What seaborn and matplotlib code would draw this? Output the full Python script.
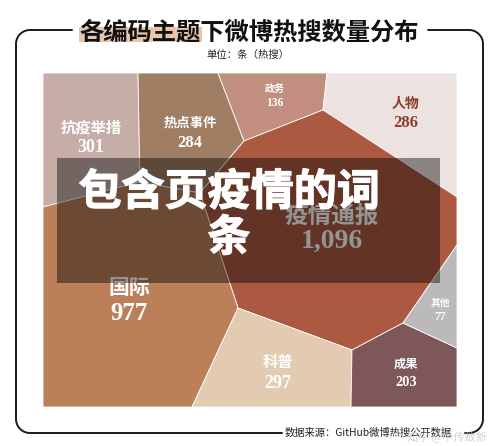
import matplotlib.pyplot as plt
import matplotlib.patheffects as pe
import seaborn as sns
import numpy as np
from matplotlib.patches import Polygon, Rectangle

# data
categories = ['抗疫举措', '热点事件', '政务', '人物', '疫情通报', '国际', '科普', '成果', '其他']
counts = [301, 284, 136, 286, 1096, 977, 297, 203, 77]
cell_colors = ['#c4aca4', '#9c7a5f', '#c08a7b', '#ece2e0', '#a8533b',
               '#b97b53', '#e2cab0', '#7a5153', '#b9b7b7']

title = '各编码主题下微博热搜数量分布'
subtitle = '单位：条（热搜）'
source = '数据来源：GitHub微博热搜公开数据'
banner = '包含页疫情的词\n条'

# layout of the voronoi cells (figure pixels)
cell_shapes = {
    '抗疫举措': [(43, 73), (138, 73), (140, 182), (43, 207)],
    '热点事件': [(138, 73), (218, 73), (244, 141), (200, 193), (140, 182)],
    '政务': [(218, 73), (327, 73), (323, 110), (244, 141)],
    '人物': [(327, 73), (457, 73), (457, 197), (323, 110)],
    '疫情通报': [(244, 141), (323, 110), (457, 197), (457, 245), (403, 323),
             (352, 350), (238, 308), (200, 193)],
    '国际': [(43, 207), (140, 182), (200, 193), (238, 308), (192, 407), (43, 407)],
    '科普': [(238, 308), (352, 350), (351, 407), (192, 407)],
    '成果': [(352, 350), (403, 323), (457, 348), (457, 407), (351, 407)],
    '其他': [(403, 323), (457, 245), (457, 348)],
}
# label x, name y, number y, name size, number size, colour
label_style = {
    '抗疫举措': (91, 127, 148, 11, 13, 'white'),
    '热点事件': (190, 123, 143, 9.6, 12, 'white'),
    '政务': (275, 90, 103, 7.2, 8.3, 'white'),
    '人物': (406, 104, 123, 10, 12, '#8e3b2c'),
    '疫情通报': (332, 216, 241, 17, 20, 'white'),
    '国际': (129, 287, 314, 15, 18, 'white'),
    '科普': (278, 362, 384, 11, 13, 'white'),
    '成果': (406, 364, 383, 8.8, 10.4, 'white'),
    '其他': (440, 303, 317, 7, 8.4, 'white'),
}

sns.set_theme(style='white')
plt.rcParams['font.family'] = ['Noto Sans CJK SC', 'DejaVu Sans']
palette = sns.color_palette(cell_colors)

fig = plt.figure(figsize=(5, 4.46), dpi=100)
ax = fig.add_axes([0, 0, 1, 1])
ax.set_xlim(0, 500)
ax.set_ylim(446, 0)
ax.axis('off')

for cat, n, col in zip(categories, counts, palette):
    ax.add_patch(Polygon(cell_shapes[cat], closed=True, facecolor=col,
                         edgecolor='white', linewidth=0.6, alpha=0.97, zorder=1))
    x, yn, yv, sn, sv, tc = label_style[cat]
    ax.text(x, yn, cat, ha='center', va='center', fontsize=sn, color=tc,
            fontweight='bold', zorder=2)
    ax.text(x, yv, f'{n:,}', ha='center', va='center', fontsize=sv, color=tc,
            fontweight='bold', family=['Liberation Serif', 'DejaVu Serif'], zorder=2)

# dark banner over the chart
ax.add_patch(Rectangle((57, 158), 383, 125, facecolor='black', alpha=0.42,
                       edgecolor='none', zorder=3))
ax.text(229, 215, banner, ha='center', va='center', fontsize=31, color='white',
        fontweight='heavy', linespacing=1.05, multialignment='center', zorder=4,
        path_effects=[pe.withStroke(linewidth=0.9, foreground='white')])

# title with highlight
ax.add_patch(Rectangle((79, 27), 123, 15, facecolor='#e8c6ae', edgecolor='none', zorder=1))
ax.text(249, 33, title, ha='center', va='center', fontsize=17.5, color='#111111',
        fontweight='bold', zorder=2)
ax.text(248, 55, subtitle, ha='center', va='center', fontsize=7.5, color='#222222')

# rounded frame, open where the title and the source sit
r = 14
def arc(cx, cy, a0, a1):
    t = np.radians(np.linspace(a0, a1, 20))
    return list(zip(cx + r * np.cos(t), cy + r * np.sin(t)))

left = [(282, 433), (16 + r, 433)] + arc(16 + r, 433 - r, 90, 180) + \
       [(16, 30 + r)] + arc(16 + r, 30 + r, 180, 270) + [(72, 30)]
right = [(428, 30), (483 - r, 30)] + arc(483 - r, 30 + r, 270, 360) + \
        [(483, 433 - r)] + arc(483 - r, 433 - r, 0, 90) + [(465, 433)]
for seg in (left, right):
    xs, ys = zip(*seg)
    ax.plot(xs, ys, color='#1a1a1a', linewidth=1.4, solid_capstyle='round')

ax.text(285, 433, source, ha='left', va='center', fontsize=7.4, color='#222222')
ax.text(487, 437, '知乎 @中传数新', ha='right', va='center', fontsize=8,
        color='#c8c8c8', alpha=0.8)

plt.savefig('out.png', dpi=100)
plt.close()
